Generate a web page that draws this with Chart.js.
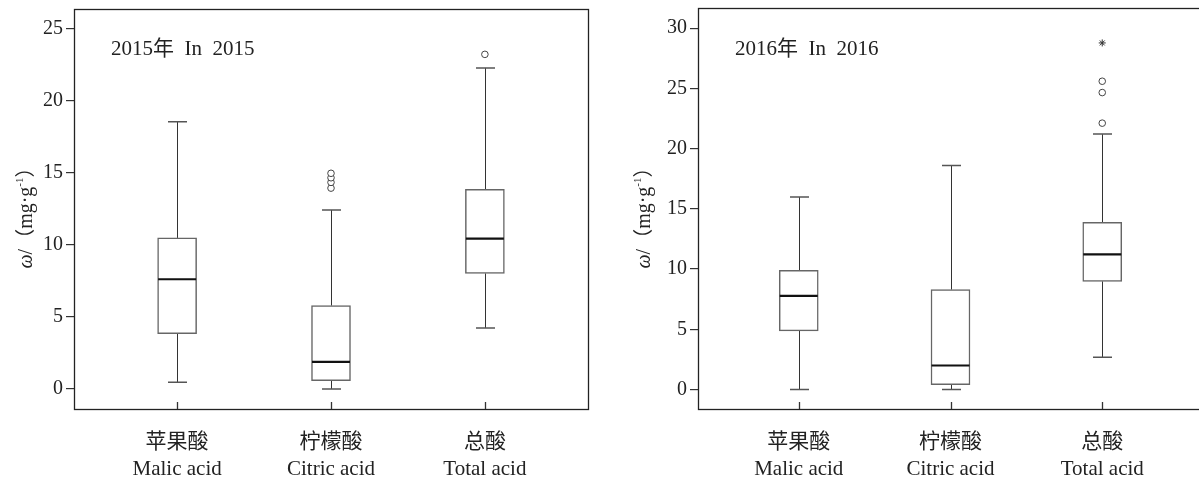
<!DOCTYPE html>
<html><head><meta charset="utf-8">
<script src="https://cdn.jsdelivr.net/npm/chart.js@4/dist/chart.umd.min.js"></script>
<style>
html,body{margin:0;padding:0;background:#fff;overflow:hidden;}
#wrap{position:relative;width:1199px;height:483px;overflow:hidden;background:#fff;}
#c1{position:absolute;left:0;top:0;}
#c2{position:absolute;left:624px;top:0;}
</style></head><body>
<div id="wrap">
<canvas id="c1" width="600" height="483"></canvas>
<canvas id="c2" width="584" height="483"></canvas>
</div>
<script>
// ---- data ----
const categoriesZh = ['苹果酸', '柠檬酸', '总酸'];
const categoriesEn = ['Malic acid', 'Citric acid', 'Total acid'];
const yTicks2015 = [0, 5, 10, 15, 20, 25];
const yTicks2016 = [0, 5, 10, 15, 20, 25, 30];
// [lower whisker, Q1, median, Q3, upper whisker]
const malic2015 = [0.46, 3.84, 7.62, 10.49, 18.56];
const citric2015 = [0.0, 0.58, 1.88, 5.79, 12.43];
const total2015 = [4.24, 8.03, 10.44, 13.87, 22.3];
const citricOutliers2015 = [13.95, 14.35, 14.67, 14.98];
const totalOutliers2015 = [23.24];
const malic2016 = [0.0, 4.87, 7.77, 9.9, 15.98];
const citric2016 = [0.0, 0.41, 1.99, 8.29, 18.6];
const total2016 = [2.68, 8.98, 11.22, 13.87, 21.2];
const totalOutliers2016 = [22.11, 24.65, 25.59];
const totalExtremes2016 = [28.77];
const title2015 = '2015年  In  2015';
const title2016 = '2016年  In  2016';

const FONT = "'Liberation Serif','Noto Sans CJK SC',serif";

function makeChart(canvasId, stats, outlierSets, extremeSets, yTicks, yMin, yMax, xMin, xMax, title, pad, yLabelX) {
  const boxData = stats.map((s, i) => ({x: i + 1, y: [s[1], s[3]]}));
  const outPts = [];
  outlierSets.forEach((arr, i) => arr.forEach(v => outPts.push({x: i + 1, y: v})));
  const extPts = [];
  extremeSets.forEach((arr, i) => arr.forEach(v => extPts.push({x: i + 1, y: v})));

  const boxPlugin = {
    id: 'boxparts',
    beforeDatasetsDraw(chart) {
      const {ctx, scales: {x, y}} = chart;
      ctx.save();
      stats.forEach((s, i) => {
        const px = Math.round(x.getPixelForValue(i + 1)) + 0.5;
        ctx.strokeStyle = '#333';
        ctx.lineWidth = 1;
        ctx.beginPath();
        ctx.moveTo(px, y.getPixelForValue(s[0]));
        ctx.lineTo(px, y.getPixelForValue(s[1]));
        ctx.moveTo(px, y.getPixelForValue(s[3]));
        ctx.lineTo(px, y.getPixelForValue(s[4]));
        ctx.stroke();
        ctx.strokeStyle = '#555';
        ctx.lineWidth = 1.5;
        ctx.beginPath();
        [s[0], s[4]].forEach(v => {
          const py = y.getPixelForValue(v);
          ctx.moveTo(px - 9.5, py);
          ctx.lineTo(px + 9.5, py);
        });
        ctx.stroke();
      });
      ctx.restore();
    },
    afterDatasetsDraw(chart) {
      const {ctx, scales: {x, y}, chartArea: a} = chart;
      ctx.save();
      stats.forEach((s, i) => {
        const px = x.getPixelForValue(i + 1);
        const py = y.getPixelForValue(s[2]);
        ctx.strokeStyle = '#111';
        ctx.lineWidth = 2.2;
        ctx.beginPath();
        ctx.moveTo(px - 19, py);
        ctx.lineTo(px + 19, py);
        ctx.stroke();
      });
      // frame
      ctx.strokeStyle = '#222';
      ctx.lineWidth = 1.3;
      ctx.strokeRect(Math.round(a.left) + 0.5, Math.round(a.top) + 0.5, Math.round(a.right - a.left), Math.round(a.bottom - a.top));
      // inward x ticks
      ctx.strokeStyle = '#333';
      ctx.lineWidth = 1.3;
      ctx.beginPath();
      stats.forEach((s, i) => {
        const px = Math.round(x.getPixelForValue(i + 1)) + 0.5;
        ctx.moveTo(px, a.bottom);
        ctx.lineTo(px, a.bottom - 7);
      });
      ctx.stroke();
      // panel title
      ctx.fillStyle = '#222';
      ctx.font = '21px ' + FONT;
      ctx.textBaseline = 'middle';
      ctx.textAlign = 'left';
      ctx.fillText(title, a.left + 37, 49);
      // y axis label (rotated)
      ctx.translate(yLabelX, 213);
      ctx.rotate(-Math.PI / 2);
      const parts = [
        {t: 'ω', f: "italic 20px " + FONT, dy: 0},
        {t: '/（mg·g', f: "20px " + FONT, dy: 0},
        {t: '-1', f: "11px " + FONT, dy: -7},
        {t: '）', f: "20px " + FONT, dy: 0}
      ];
      let total = 0;
      parts.forEach(p => { ctx.font = p.f; p.w = ctx.measureText(p.t).width; total += p.w; });
      let cx = -total / 2;
      ctx.textAlign = 'left';
      ctx.textBaseline = 'middle';
      parts.forEach(p => { ctx.font = p.f; ctx.fillText(p.t, cx, p.dy); cx += p.w; });
      ctx.restore();
    }
  };

  return new Chart(document.getElementById(canvasId), {
    type: 'bar',
    data: {
      datasets: [
        {
          type: 'bar', data: boxData, backgroundColor: '#ffffff', borderColor: '#666',
          borderWidth: 1.5, barThickness: 39, borderSkipped: false, order: 2
        },
        {
          type: 'scatter', data: outPts, pointStyle: 'circle', pointRadius: 3.3,
          pointBorderColor: '#444', pointBackgroundColor: '#fff', pointBorderWidth: 1, order: 1
        },
        {
          type: 'scatter', data: extPts, pointStyle: 'star', pointRadius: 3.5,
          pointBorderColor: '#333', pointBackgroundColor: '#333', pointBorderWidth: 1, order: 1
        }
      ]
    },
    options: {
      responsive: false,
      animation: false,
      devicePixelRatio: 1,
      layout: {padding: pad},
      plugins: {legend: {display: false}, tooltip: {enabled: false}, title: {display: false}},
      scales: {
        x: {
          type: 'linear', min: xMin, max: xMax, offset: false,
          afterBuildTicks: s => { s.ticks = categoriesZh.map((c, i) => ({value: i + 1})); },
          afterFit: s => { s.height = 74; s.paddingLeft = 0; s.paddingRight = 0; },
          ticks: {
            callback: (v) => [categoriesZh[v - 1], categoriesEn[v - 1]],
            font: {family: FONT, size: 21, lineHeight: 1.3}, color: '#222', padding: 20, maxRotation: 0, autoSkip: false
          },
          grid: {display: false, drawTicks: false},
          border: {display: false}
        },
        y: {
          type: 'linear', min: yMin, max: yMax,
          afterBuildTicks: s => { s.ticks = yTicks.map(v => ({value: v})); },
          afterFit: s => { s.width = 74; s.paddingTop = 0; s.paddingBottom = 0; },
          ticks: {font: {family: FONT, size: 20}, color: '#222', padding: 3},
          grid: {display: true, drawOnChartArea: false, drawTicks: true, tickLength: 8, color: '#333', lineWidth: 1.2},
          border: {display: false}
        }
      }
    },
    plugins: [boxPlugin]
  });
}

makeChart('c1', [malic2015, citric2015, total2015], [[], citricOutliers2015, totalOutliers2015], [[], [], []],
  yTicks2015, -1.39, 26.39, 0.33, 3.67, title2015, {top: 9, right: 12, left: 0, bottom: 0}, 27);
makeChart('c2', [malic2016, citric2016, total2016], [[], [], totalOutliers2016], [[], [], totalExtremes2016],
  yTicks2016, -1.62, 31.67, 0.336, 3.664, title2016, {top: 8, right: 4, left: 0, bottom: 0}, 21);
</script>
</body></html>
